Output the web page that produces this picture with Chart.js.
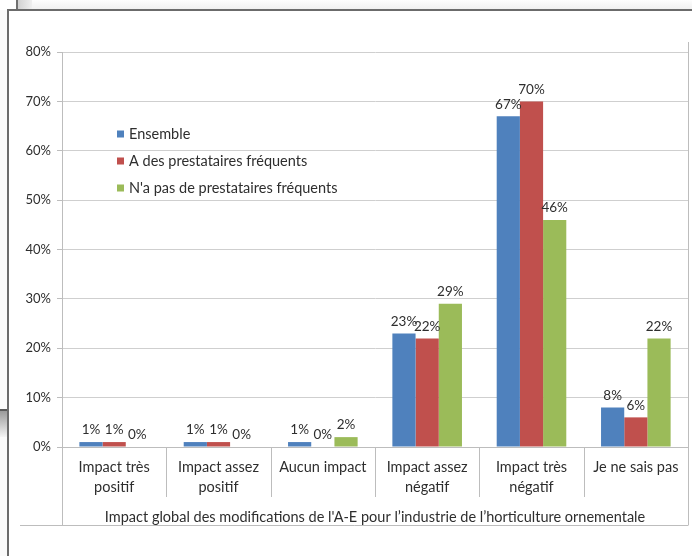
<!DOCTYPE html>
<html>
<head>
<meta charset="utf-8">
<script src="https://cdn.jsdelivr.net/npm/chart.js@4/dist/chart.umd.min.js"></script>
<style>
  html, body { margin: 0; padding: 0; background: #fff; }
  #wrap { position: relative; width: 692px; height: 556px; overflow: hidden; background: #fff; }
  .strip-top { position: absolute; left: 0; top: 0; width: 692px; height: 10px; background: linear-gradient(#fdfdfd, #efefef); }
  .strip-top-left { position: absolute; left: 0; top: 0; width: 16px; height: 10px; background: #fff; }
  .win-edge { position: absolute; left: 16px; top: 0; width: 2px; height: 10px; background: #707070; }
  .win-shade { position: absolute; left: 18px; top: 0; width: 14px; height: 10px; background: linear-gradient(90deg, #d2d2d2, #efefef); }
  .strip-left { position: absolute; left: 0; top: 10px; width: 8px; height: 546px; background: #fafafa; }
  .strip-left-edge { position: absolute; left: 0; top: 409px; width: 8px; height: 2px; background: #5a5a5a; }
  .strip-left-shade { position: absolute; left: 0; top: 411px; width: 8px; height: 26px; background: linear-gradient(#9a9a9a, #f4f4f4); }
  .frame { position: absolute; left: 7px; top: 9px; width: 690px; height: 552px; border-top: 2px solid #6b6b6b; border-left: 2px solid #6b6b6b; background: #fff; }
  canvas { position: absolute; left: 0; top: 0; }
</style>
</head>
<body>
<div id="wrap">
  <div class="strip-top"></div>
  <div class="strip-top-left"></div>
  <div class="win-edge"></div>
  <div class="win-shade"></div>
  <div class="strip-left"></div>
  <div class="strip-left-edge"></div>
  <div class="strip-left-shade"></div>
  <div class="frame"></div>
  <canvas id="chart" width="692" height="556"></canvas>
</div>
<script>
// Categories (two-line labels where the text wraps)
const categories = [
  ["Impact très", "positif"],
  ["Impact assez", "positif"],
  "Aucun impact",
  ["Impact assez", "négatif"],
  ["Impact très", "négatif"],
  "Je ne sais pas"
];
const seriesNames = ["Ensemble", "A des prestataires fréquents", "N'a pas de prestataires fréquents"];
const ensemble = [1, 1, 1, 23, 67, 8];
const avecPrestataires = [1, 1, 0, 22, 70, 6];
const sansPrestataires = [0, 0, 2, 29, 46, 22];
const yTicks = [0, 10, 20, 30, 40, 50, 60, 70, 80];
const axisGroupLabel = "Impact global des modifications de l'A-E pour l\u2019industrie de l\u2019horticulture ornementale";

const seriesColors = ["#4F81BD", "#C0504D", "#9BBB59"];
const FONT = "Lato, 'Open Sans', sans-serif";
const TEXT = "#2e2e2e";
const GRID = "#cfcfcf";
const AXIS = "#bdbdbd";

// Value labels above each bar
const valueLabels = {
  id: 'valueLabels',
  afterDatasetsDraw(chart) {
    const ctx = chart.ctx;
    ctx.save();
    ctx.font = "13.5px " + FONT;
    ctx.fillStyle = TEXT;
    ctx.textAlign = 'center';
    ctx.textBaseline = 'middle';
    chart.data.datasets.forEach((ds, di) => {
      chart.getDatasetMeta(di).data.forEach((bar, i) => {
        ctx.fillText(ds.data[i] + '%', bar.x, bar.y - 12);
      });
    });
    ctx.restore();
  }
};

// Legend drawn inside the plot area, stacked vertically
const innerLegend = {
  id: 'innerLegend',
  afterDraw(chart) {
    const ctx = chart.ctx;
    const a = chart.chartArea;
    const x0 = a.left + 55;
    const y0 = 134;
    const step = 27;
    ctx.save();
    ctx.font = "14.5px " + FONT;
    ctx.textAlign = 'left';
    ctx.textBaseline = 'middle';
    chart.data.datasets.forEach((ds, i) => {
      const y = y0 + i * step;
      ctx.fillStyle = ds.backgroundColor;
      ctx.fillRect(x0, y - 3.5, 7, 7);
      ctx.fillStyle = TEXT;
      ctx.fillText(ds.label, x0 + 12, y);
    });
    ctx.restore();
  }
};

// Multi-level category axis: separators between categories and the group box
const categoryFrame = {
  id: 'categoryFrame',
  afterDraw(chart) {
    const ctx = chart.ctx;
    const xs = chart.scales.x;
    const a = chart.chartArea;
    const n = chart.data.labels.length;
    const sepBottom = a.bottom + 50;
    const groupBottom = a.bottom + 78;
    ctx.save();
    ctx.strokeStyle = AXIS;
    ctx.lineWidth = 1;
    ctx.beginPath();
    for (let i = 1; i < n; i++) {
      const x = Math.round((xs.getPixelForValue(i - 1) + xs.getPixelForValue(i)) / 2) + 0.5;
      ctx.moveTo(x, a.bottom);
      ctx.lineTo(x, sepBottom);
    }
    const l = Math.round(a.left) + 0.5;
    const r = Math.round(a.right) + 0.5;
    ctx.moveTo(l, a.bottom);
    ctx.lineTo(l, groupBottom);
    ctx.moveTo(r, a.top - 10);
    ctx.lineTo(r, groupBottom);
    ctx.moveTo(20, groupBottom + 0.5);
    ctx.lineTo(r, groupBottom + 0.5);
    ctx.stroke();
    ctx.restore();
  }
};

new Chart(document.getElementById('chart'), {
  type: 'bar',
  data: {
    labels: categories,
    datasets: [
      { label: seriesNames[0], data: ensemble, backgroundColor: seriesColors[0] },
      { label: seriesNames[1], data: avecPrestataires, backgroundColor: seriesColors[1] },
      { label: seriesNames[2], data: sansPrestataires, backgroundColor: seriesColors[2] }
    ]
  },
  options: {
    responsive: false,
    animation: false,
    devicePixelRatio: 1,
    layout: { padding: { top: 52, right: 4, left: 0, bottom: 0 } },
    datasets: { bar: { categoryPercentage: 0.667, barPercentage: 1.0, borderWidth: 0 } },
    plugins: {
      legend: { display: false },
      tooltip: { enabled: false },
      title: { display: false }
    },
    scales: {
      x: {
        grid: { display: false, drawTicks: false },
        border: { display: true, color: AXIS, width: 1 },
        ticks: {
          color: TEXT,
          font: { family: FONT, size: 14.5, lineHeight: 1.345 },
          padding: 11,
          maxRotation: 0,
          autoSkip: false
        },
        title: {
          display: true,
          text: axisGroupLabel,
          color: TEXT,
          font: { family: FONT, size: 14.5, lineHeight: 1.345 },
          padding: { top: 0, bottom: 29 }
        },
        afterFit(scale) { scale.height = 109; }
      },
      y: {
        min: 0,
        max: 80,
        afterBuildTicks(scale) { scale.ticks = yTicks.map(v => ({ value: v })); },
        grid: { color: GRID, tickLength: 5, drawTicks: true, tickColor: AXIS },
        border: { display: true, color: AXIS, width: 1 },
        ticks: {
          color: TEXT,
          font: { family: FONT, size: 13 },
          padding: 6,
          callback: v => v + '%'
        },
        afterFit(scale) { scale.width = 62; }
      }
    }
  },
  plugins: [valueLabels, innerLegend, categoryFrame]
});
</script>
</body>
</html>
